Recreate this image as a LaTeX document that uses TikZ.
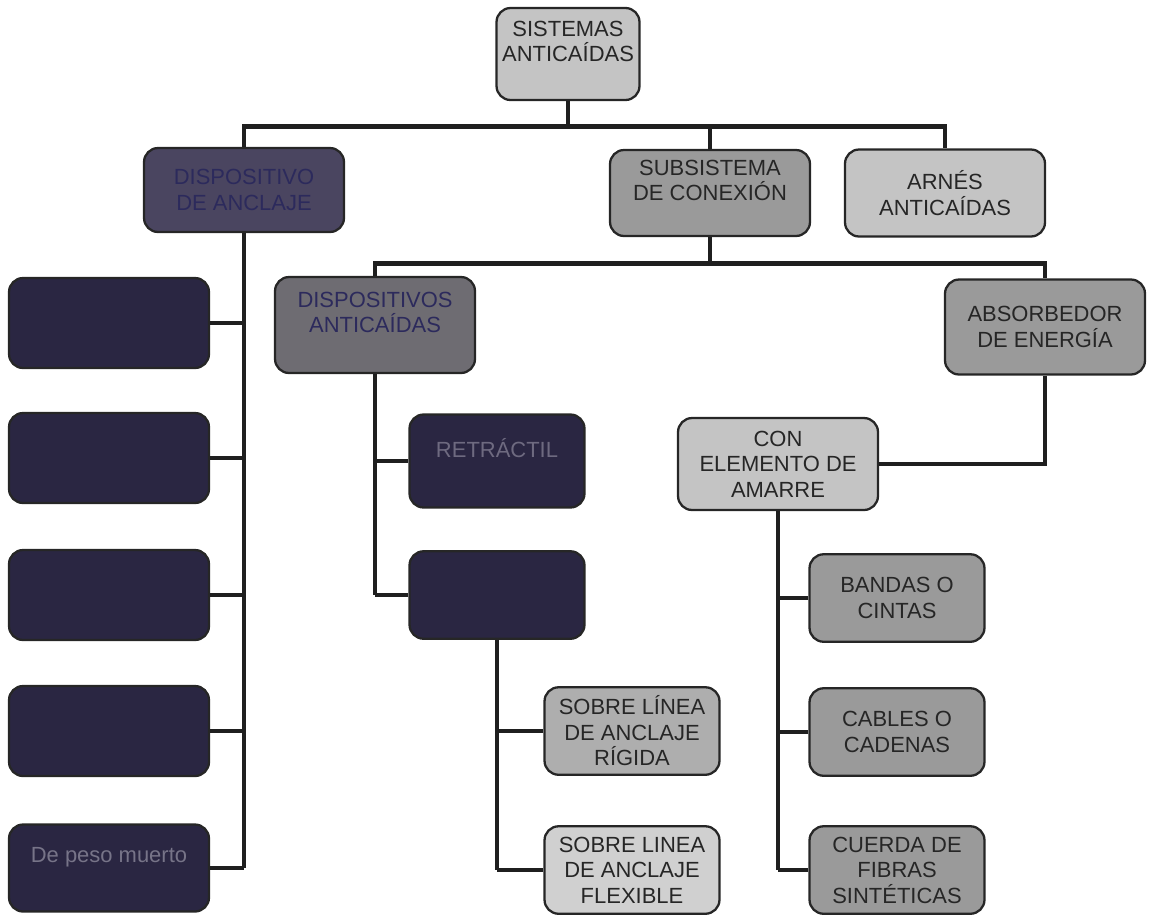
\documentclass[tikz,border=0pt]{standalone}
\usepackage{fontspec}
\setmainfont{Liberation Sans}

\definecolor{claro}{HTML}{C4C4C4}
\definecolor{medio}{HTML}{9A9A9A}
\definecolor{gris}{HTML}{6E6C72}
\definecolor{violeta}{HTML}{4A4560}
\definecolor{oscuro}{HTML}{2A2642}
\definecolor{tinta}{HTML}{262626}
\definecolor{tintaazul}{HTML}{2C2A5C}

\tikzset{
  caja/.style={draw=tinta, line width=1.3pt, rounded corners=8pt, align=center,
    inner sep=2pt, text=tinta, font=\fontsize{12.5}{14.5}\selectfont},
  ancha/.style={minimum width=4.0cm, minimum height=1.8cm},
  estrecha/.style={minimum width=3.5cm, minimum height=1.75cm},
  linea/.style={line width=2.8pt, draw=black!88}
}

\begin{document}
\begin{tikzpicture}[x=0.02cm, y=-0.02cm]
    \useasboundingbox (0,0) rectangle (1151,917);

    % Nivel 1
    \node[caja, fill=claro, minimum width=2.86cm, minimum height=1.84cm] (sistema) at (568,54) {SISTEMAS\\ANTICAÍDAS\\ \ };

    % Nivel 2
    \node[caja, ancha, fill=violeta, text=tintaazul, minimum height=1.68cm] (anclaje) at (244,190) {DISPOSITIVO\\DE ANCLAJE};
    \node[caja, ancha, fill=medio, minimum height=1.72cm] (conexion) at (710,193) {SUBSISTEMA\\DE CONEXIÓN\\ \ };
    \node[caja, ancha, fill=claro, minimum height=1.74cm] (arnes) at (945,193) {ARNÉS\\ANTICAÍDAS};

    % Tipos de anclaje
    \node[caja, ancha, fill=oscuro] (m1) at (109,323) {};
    \node[caja, ancha, fill=oscuro] (m2) at (109,458) {};
    \node[caja, ancha, fill=oscuro] (m3) at (109,595) {};
    \node[caja, ancha, fill=oscuro] (m4) at (109,731) {};
    \node[caja, ancha, fill=oscuro, text=violeta!75!white, minimum height=1.74cm] (m5) at (109,868) {De peso muerto\\ \ };

    % Subsistema
    \node[caja, ancha, fill=gris, text=tintaazul, minimum height=1.92cm] (disp) at (375,325) {DISPOSITIVOS\\ANTICAÍDAS\\ \ };
    \node[caja, ancha, fill=medio, minimum height=1.9cm] (absorb) at (1045,327) {ABSORBEDOR\\DE ENERGÍA};

    % Dispositivos anticaidas
    \node[caja, estrecha, fill=oscuro, text=violeta!80!white, minimum height=1.86cm] (retractil) at (497,461) {RETRÁCTIL\\ \ };
    \node[caja, estrecha, fill=oscuro] (guiado) at (497,595) {};
    \node[caja, estrecha, fill=medio!80!white] (rigida) at (632,731) {SOBRE LÍNEA\\DE ANCLAJE\\RÍGIDA};
    \node[caja, estrecha, fill=claro!80!white] (flexible) at (632,870) {SOBRE LINEA\\DE ANCLAJE\\FLEXIBLE};

    % Elemento de amarre
    \node[caja, ancha, fill=claro, minimum height=1.84cm] (amarre) at (778,464) {CON\\ELEMENTO DE\\AMARRE};
    \node[caja, estrecha, fill=medio] (bandas) at (897,598) {BANDAS O\\CINTAS};
    \node[caja, estrecha, fill=medio] (cables) at (897,732) {CABLES O\\CADENAS};
    \node[caja, estrecha, fill=medio] (cuerda) at (897,870) {CUERDA DE\\FIBRAS\\SINTÉTICAS};

    % Conexiones
    \draw[linea] (sistema.south) -- ++(0,25) coordinate (bus1);
    \draw[linea] (anclaje.north) |- (bus1) -| (arnes.north);
    \draw[linea] (conexion.north) -- (conexion.north |- bus1);

    \draw[linea] (anclaje.south) -- (anclaje.south |- m5.east);
    \foreach \n in {m1,m2,m3,m4,m5}
        \draw[linea] (\n.east) -- (\n.east -| anclaje.south);

    \draw[linea] (conexion.south) -- ++(0,26) coordinate (bus2);
    \draw[linea] (disp.north) |- (bus2) -| (absorb.north);

    \draw[linea] (disp.south) -- (disp.south |- guiado.west);
    \foreach \n in {retractil,guiado}
        \draw[linea] (\n.west) -- (\n.west -| disp.south);

    \draw[linea] (guiado.south) -- (guiado.south |- flexible.west);
    \foreach \n in {rigida,flexible}
        \draw[linea] (\n.west) -- (\n.west -| guiado.south);

    \draw[linea] (absorb.south) |- (amarre.east);

    \draw[linea] (amarre.south) -- (amarre.south |- cuerda.west);
    \foreach \n in {bandas,cables,cuerda}
        \draw[linea] (\n.west) -- (\n.west -| amarre.south);

\end{tikzpicture}
\end{document}
